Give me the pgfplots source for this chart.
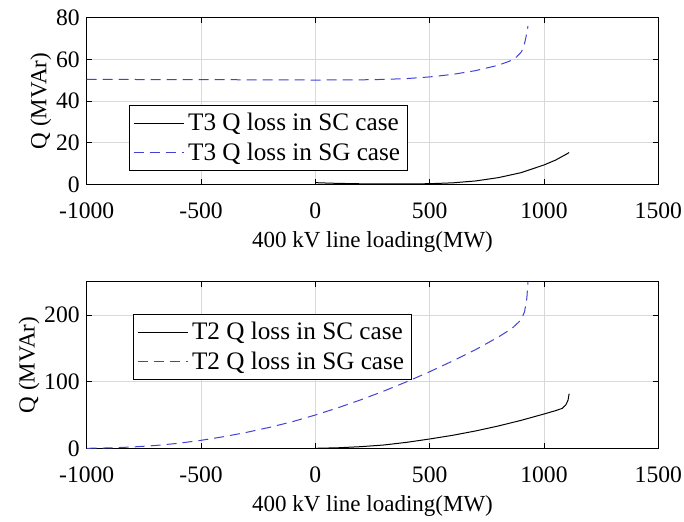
\documentclass[border=0pt]{standalone}
\usepackage{fontspec}
\setmainfont{Liberation Serif}
\usepackage{pgfplots}
\pgfplotsset{compat=1.18}
\definecolor{sgblue}{RGB}{65,65,215}
\pgfplotsset{myax/.style={
  scale only axis, width=285.8pt, height=83.25pt,
  xmin=-1000, xmax=1500, xtick={-1000,-500,0,500,1000,1500},
  grid=major, major grid style={black!15, line width=0.4pt},
  tick align=inside, major tick length=2.5pt,
  axis line style={line width=0.5pt},
  tick style={black, line width=0.4pt},
  /pgf/number format/assume math mode=true,
  /pgf/number format/1000 sep={},
  ticklabel style={font=\fontsize{11.8}{13}\selectfont},
  xticklabel style={yshift=-5.5pt},
  label style={font=\fontsize{11.5}{13}\selectfont},
  xlabel={400 kV line loading(MW)},
  ylabel={Q (MVAr)},
  ylabel shift=-4.5pt,
  legend cell align=left,
  legend style={font=\fontsize{12.6}{14}\selectfont, draw=black, line width=0.5pt, inner sep=1.8pt, row sep=0.5pt},
  legend image code/.code={\draw[#1] (0pt,0pt) -- (25pt,0pt);},
}}
\begin{document}
\begin{tikzpicture}
\begin{axis}[myax, ymin=0, ymax=80, ytick={0,20,40,60,80},
  legend style={at={(0.074,0.476)}, anchor=north west}]
\addplot[black, line width=0.5pt] coordinates {
(0,0.8) (50,0.6) (100,0.45) (200,0.25) (300,0.15) (400,0.15) (500,0.3) (600,0.7) (700,1.6) (800,3.2) (900,5.6) (1000,9.3) (1050,11.6) (1100,14.6) (1110,15.3)};
\addlegendentry{T3 Q loss in SC case}
\addplot[sgblue, line width=0.5pt, dash pattern=on 5pt off 3pt] coordinates {
(-1000,50.4) (-500,50.3) (0,50.1) (200,50.2) (300,50.4) (400,50.8) (500,51.6) (600,52.8) (700,54.6) (800,57.2) (850,59.2) (880,61.2) (900,63.5) (910,65.5) (920,70) (925,73) (930,76)};
\addlegendentry{T3 Q loss in SG case}
\end{axis}
\begin{axis}[myax, yshift=-132pt, ymin=0, ymax=250, ytick={0,100,200},
  legend style={at={(0.081,0.807)}, anchor=north west}]
\addplot[black, line width=0.5pt] coordinates {
(0,0) (100,0.8) (200,2.5) (300,5) (400,9) (500,14) (600,19.5) (700,26) (800,33.5) (900,42) (1000,51.5) (1050,56.5) (1080,60) (1095,65) (1105,72) (1110,82)};
\addlegendentry{T2 Q loss in SC case}
\addplot[sgblue, line width=0.5pt, dash pattern=on 5pt off 3pt] coordinates {
(-1000,0) (-900,0.6) (-800,2) (-700,4.2) (-600,7.5) (-500,12) (-400,17.5) (-300,24) (-200,31.5) (-100,40) (0,50) (100,61) (200,73) (300,86) (400,100) (500,115) (600,131) (700,148) (800,167) (860,180) (900,193) (915,205) (925,225) (930,250)};
\addlegendentry{T2 Q loss in SG case}
\end{axis}
\pgfresetboundingbox
\useasboundingbox (-43.35pt,-168.35pt) rectangle (298.65pt,92.15pt);
\end{tikzpicture}
\end{document}
